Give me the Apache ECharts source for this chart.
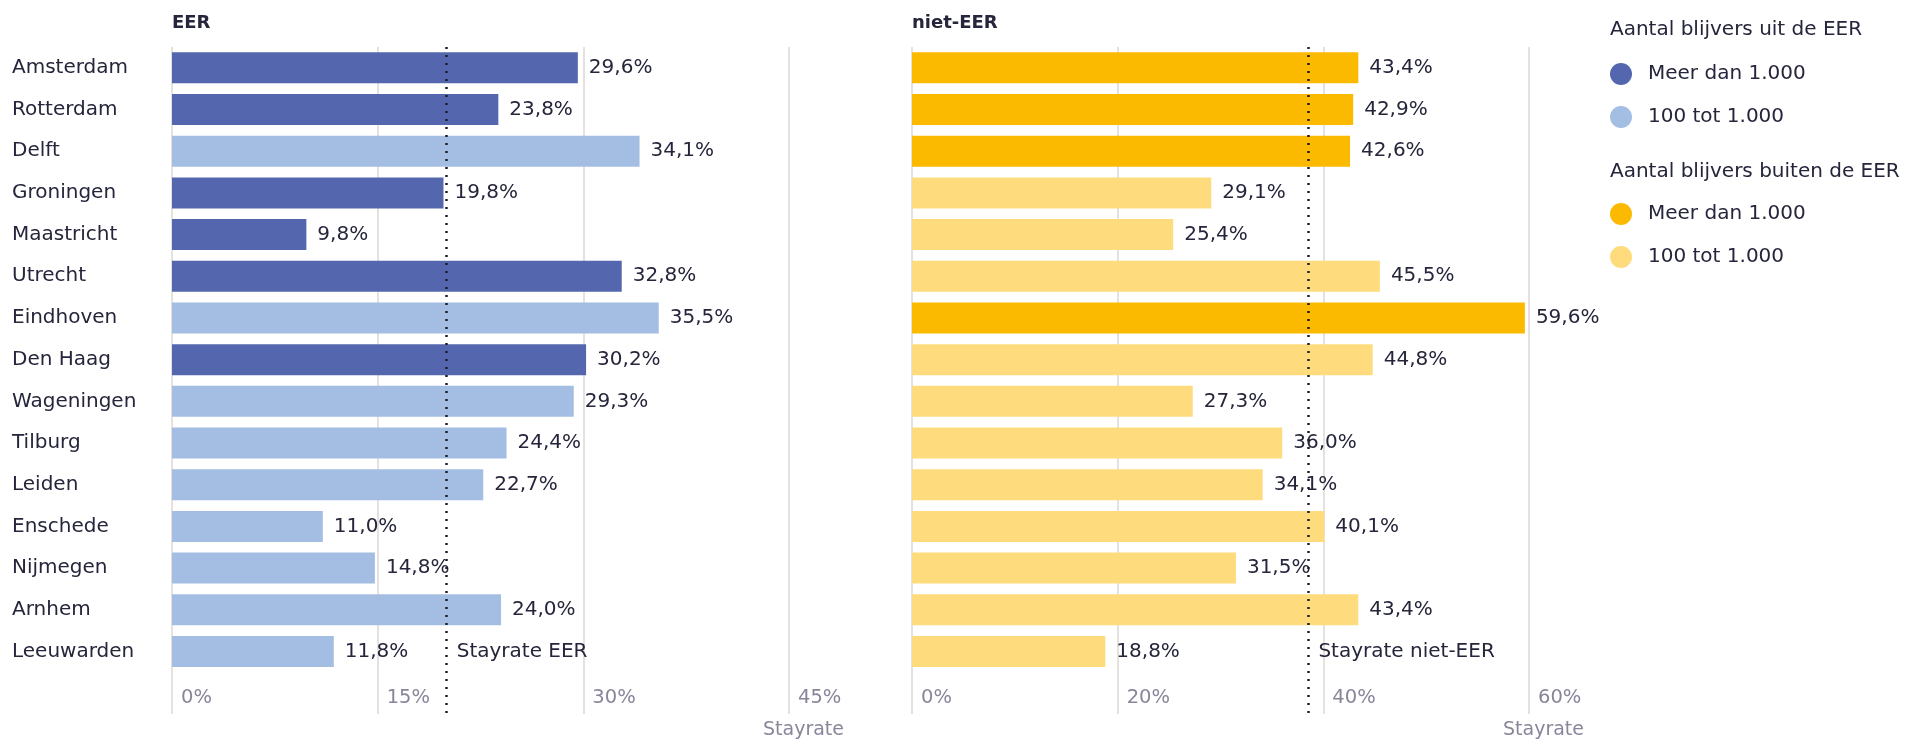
<!DOCTYPE html>
<html>
<head>
<meta charset="utf-8">
<title>Stayrate EER / niet-EER</title>
<script src="https://cdn.jsdelivr.net/npm/echarts@6/dist/echarts.min.js"></script>
<style>
  html, body { margin: 0; padding: 0; background: #ffffff; }
  #main { width: 1925px; height: 741px; }
</style>
</head>
<body>
<div id="main"></div>
<script>
// steden, van boven naar beneden
var cities = ['Amsterdam', 'Rotterdam', 'Delft', 'Groningen', 'Maastricht', 'Utrecht', 'Eindhoven',
  'Den Haag', 'Wageningen', 'Tilburg', 'Leiden', 'Enschede', 'Nijmegen', 'Arnhem', 'Leeuwarden'];

// stayrate (%) uit de EER en buiten de EER
var eerValues = [29.6, 23.8, 34.1, 19.8, 9.8, 32.8, 35.5, 30.2, 29.3, 24.4, 22.7, 11.0, 14.8, 24.0, 11.8];
var nietEerValues = [43.4, 42.9, 42.6, 29.1, 25.4, 45.5, 59.6, 44.8, 27.3, 36.0, 34.1, 40.1, 31.5, 43.4, 18.8];

// 1 = meer dan 1.000 blijvers, 0 = 100 tot 1.000
var eerLarge = [1, 1, 0, 1, 1, 1, 0, 1, 0, 0, 0, 0, 0, 0, 0];
var nietEerLarge = [1, 1, 1, 0, 0, 0, 1, 0, 0, 0, 0, 0, 0, 0, 0];

// gemiddelde stayrate (stippellijn)
var stayrateEer = 20.0;
var stayrateNietEer = 38.5;

var eerTicks = { min: 0, max: 45, interval: 15 };
var nietEerTicks = { min: 0, max: 60, interval: 20 };

var legendEer = ['EER: Meer dan 1.000', 'EER: 100 tot 1.000'];
var legendNietEer = ['niet-EER: Meer dan 1.000', 'niet-EER: 100 tot 1.000'];

var textColor = '#25253b';
var tickColor = '#88869a';
var gridColor = '#ddd7d3';
var font = 'DejaVu Sans';

function pick(values, groups, want) {
  return values.map(function (v, i) { return groups[i] === want ? v : '-'; });
}

function pct(v) {
  return v.toFixed(1).replace('.', ',') + '%';
}

function xAxisFor(idx, ticks) {
  return {
    type: 'value',
    gridIndex: idx,
    min: ticks.min,
    max: ticks.max,
    interval: ticks.interval,
    name: 'Stayrate',
    nameLocation: 'end',
    nameGap: 55,
    nameTextStyle: { color: tickColor, fontSize: 19, fontFamily: font, align: 'right', verticalAlign: 'top', padding: [7, 0, 0, 0] },
    axisLine: { show: false },
    axisTick: { show: false },
    splitLine: { show: true, lineStyle: { color: gridColor, width: 1.5 } },
    axisLabel: {
      inside: true,
      margin: 6,
      align: 'left',
      padding: [0, 0, 0, 9],
      color: tickColor,
      fontSize: 19.5,
      fontFamily: font,
      formatter: function (v) { return v + '%'; }
    }
  };
}

function yAxisFor(idx, showLabels) {
  return {
    type: 'category',
    gridIndex: idx,
    data: cities,
    inverse: true,
    max: cities.length, // lege rij onderaan voor de aslabels
    axisLine: { show: false },
    axisTick: { show: false },
    splitLine: { show: false },
    axisLabel: {
      show: showLabels,
      align: 'left',
      margin: 160,
      padding: [6, 0, 0, 0],
      color: textColor,
      fontSize: 20,
      fontFamily: font
    }
  };
}

function barSeries(name, idx, data, color, avg, avgLabel) {
  var s = {
    name: name,
    type: 'bar',
    xAxisIndex: idx,
    yAxisIndex: idx,
    data: data,
    barWidth: 31,
    barGap: '-100%',
    itemStyle: { color: color },
    label: {
      show: true,
      position: 'right',
      distance: 11,
      padding: [6, 0, 0, 0],
      color: textColor,
      fontSize: 20,
      fontFamily: font,
      formatter: function (p) { return pct(p.value); }
    }
  };
  if (avg != null) {
    s.markLine = {
      silent: true,
      symbol: ['none', 'none'],
      label: { show: false },
      lineStyle: { color: '#1e1e2c', width: 2.5, type: [2, 6] },
      data: [{ xAxis: avg }]
    };
    s.markPoint = {
      silent: true,
      symbol: 'circle',
      symbolSize: 1,
      itemStyle: { color: 'rgba(0,0,0,0)' },
      label: { show: true, position: 'right', distance: 10, padding: [6, 0, 0, 0], color: textColor, fontSize: 20, fontFamily: font, formatter: avgLabel },
      data: [{ coord: [avg, cities.length - 1] }]
    };
  }
  return s;
}

var chart = echarts.init(document.getElementById('main'));

var legendText = {
  color: textColor,
  fontSize: 20,
  fontFamily: font,
  padding: [0, 0, 0, 11]
};

var option = {
  backgroundColor: '#ffffff',
  animation: false,
  title: [
    { text: 'EER', left: 172, top: 14, padding: 0, textStyle: { color: textColor, fontSize: 18, fontWeight: 'bold', fontFamily: font } },
    { text: 'niet-EER', left: 912, top: 14, padding: 0, textStyle: { color: textColor, fontSize: 18, fontWeight: 'bold', fontFamily: font } },
    { text: 'Aantal blijvers uit de EER', left: 1610, top: 20, padding: 0, textStyle: { color: textColor, fontSize: 20, fontWeight: 'normal', fontFamily: font } },
    { text: 'Aantal blijvers buiten de EER', left: 1610, top: 162, padding: 0, textStyle: { color: textColor, fontSize: 20, fontWeight: 'normal', fontFamily: font } }
  ],
  legend: [
    {
      data: legendEer, orient: 'vertical', left: 1610, top: 63, padding: 0,
      icon: 'circle', itemWidth: 22, itemHeight: 22, itemGap: 21,
      textStyle: legendText,
      formatter: function (n) { return n.split(': ')[1]; }
    },
    {
      data: legendNietEer, orient: 'vertical', left: 1610, top: 203, padding: 0,
      icon: 'circle', itemWidth: 22, itemHeight: 22, itemGap: 21,
      textStyle: legendText,
      formatter: function (n) { return n.split(': ')[1]; }
    }
  ],
  grid: [
    { left: 172, top: 47, width: 617, height: 667, outerBoundsMode: 'none' },
    { left: 912, top: 47, width: 617, height: 667, outerBoundsMode: 'none' }
  ],
  xAxis: [xAxisFor(0, eerTicks), xAxisFor(1, nietEerTicks)],
  yAxis: [yAxisFor(0, true), yAxisFor(1, false)],
  series: [
    barSeries(legendEer[0], 0, pick(eerValues, eerLarge, 1), '#5467ae', stayrateEer, 'Stayrate EER'),
    barSeries(legendEer[1], 0, pick(eerValues, eerLarge, 0), '#a4bee3'),
    barSeries(legendNietEer[0], 1, pick(nietEerValues, nietEerLarge, 1), '#fbb900', stayrateNietEer, 'Stayrate niet-EER'),
    barSeries(legendNietEer[1], 1, pick(nietEerValues, nietEerLarge, 0), '#fedb7d')
  ]
};

chart.setOption(option);
</script>
</body>
</html>
